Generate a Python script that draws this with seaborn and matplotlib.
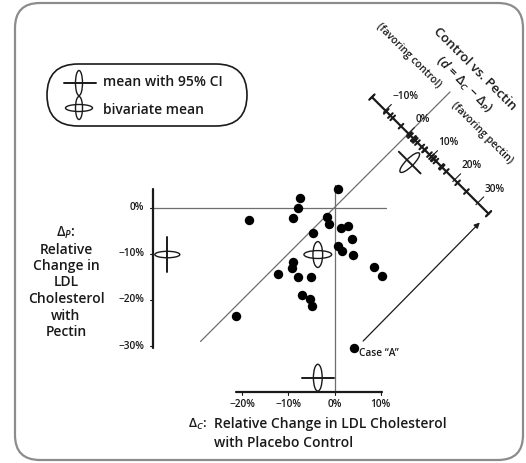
import numpy as np
import pandas as pd
import seaborn as sns
import matplotlib
matplotlib.use("Agg")
from matplotlib import pyplot as plt
from matplotlib.patches import Ellipse, FancyBboxPatch

# relative change in LDL cholesterol (%), one pair per subject
delta_c = [-18.4, -7.5, -8.0, -9.0, 0.8, -1.7, -1.1, -4.6, 1.4, 3.0, 3.8, 0.8, 1.6,
           3.9, 8.5, 10.3, -8.9, -9.3, -12.2, -8.0, -5.1, -7.0, -5.3, -4.9, -21.3, 4.2]
delta_p = [-2.6, 2.1, -0.2, -2.2, 4.0, -2.1, -3.6, -5.5, -4.4, -4.0, -6.9, -8.3, -9.4,
           -10.3, -12.8, -14.8, -11.9, -13.2, -14.4, -15.1, -15.1, -18.9, -19.9, -21.3,
           -23.4, -30.5]
case_a = 25  # index of Case "A"

x_ticks = [-20, -10, 0, 10]
y_ticks = [0, -10, -20, -30]
d_ticks = [-10, 0, 10, 20, 30]

# 95% CI half widths and ellipse sizes (width, height)
ci_c = 3.4
ci_p = 3.8
ci_d = 4.7
ell_c = (1.9, 5.8)
ell_p = (5.4, 1.4)
ell_d = (5.8, 1.7)
biv_h = (6.0, 1.7)
biv_v = (2.1, 5.6)

df = pd.DataFrame({"dc": delta_c, "dp": delta_p})
df["d"] = df.dc - df.dp
mean_c, mean_p = df.dc.mean(), df.dp.mean()
mean_d = mean_c - mean_p

# pixel of the reference -> data units (both axes same scale)
X0, Y0, S = 334.5, 207.5, 4.62
def P(px, py):
    return ((px - X0) / S, (Y0 - py) / S)

def pct(v):
    return f"{v}%".replace("-", "\u2212")

sns.set_style("white")
plt.rcParams["font.family"] = ["Open Sans", "DejaVu Sans"]
plt.rcParams["font.weight"] = "semibold"
plt.rcParams["mathtext.fontset"] = "custom"
plt.rcParams["mathtext.rm"] = "Open Sans:semibold"
plt.rcParams["mathtext.it"] = "Open Sans:italic:semibold"

ink = "#1a1a1a"
ref = "#6e6e6e"

fig = plt.figure(figsize=(5.26, 4.63), dpi=100)
ax = fig.add_axes([0, 0, 1, 1])
ax.set_xlim(P(0, 0)[0], P(526, 0)[0])
ax.set_ylim(P(0, 463)[1], P(0, 0)[1])
ax.axis("off")

# outer rounded frame
fx0, fy1 = P(15, 3)
fx1, fy0 = P(523, 460)
ax.add_patch(FancyBboxPatch((fx0, fy0), fx1 - fx0, fy1 - fy0,
                            boxstyle="round,pad=0,rounding_size=5.4", fc="none",
                            ec="#8c8c8c", lw=1.6))

axis_x = P(153, 0)[0]
axis_y = P(0, 392)[1]
c0 = 16.0  # where the difference axis crosses the diagonal

# reference lines
ax.plot([axis_x, 11.2], [0, 0], color=ref, lw=0.9)
ax.plot([0, 0], [axis_y, 4.8], color=ref, lw=0.9)
ax.plot([-29, 25], [-29, 25], color=ref, lw=0.9)

# range frame axes
ax.plot([df.dc.min(), df.dc.max()], [axis_y, axis_y], color=ink, lw=1.6)
for t in x_ticks:
    ax.plot([t, t], [axis_y, axis_y - 0.7], color=ink, lw=0.8)
    ax.text(t, axis_y - 2.6, pct(t), ha="center", va="center", fontsize=7.3, color=ink)
ax.plot([axis_x, axis_x], [df.dp.min(), df.dp.max()], color=ink, lw=1.6)
for t in y_ticks:
    ax.plot([axis_x, axis_x - 0.7], [t, t], color=ink, lw=0.8)
    ax.text(axis_x - 1.9, t, pct(t), ha="right", va="center", fontsize=7.3, color=ink)

# difference axis, perpendicular to the diagonal
def on_d(v):
    return c0 + v / 2, c0 - v / 2

d0, d1 = on_d(df.d.min()), on_d(df.d.max())
ax.plot([d0[0], d1[0]], [d0[1], d1[1]], color=ink, lw=1.6)
for e in (d0, d1):
    ax.plot([e[0] - 0.6, e[0] + 0.6], [e[1] - 0.6, e[1] + 0.6], color=ink, lw=1.3)
for v in df.d:
    q = on_d(v)
    ax.plot([q[0] - 0.5, q[0] + 0.5], [q[1] - 0.5, q[1] + 0.5], color=ink, lw=1.5)
for t in d_ticks:
    q = on_d(t)
    ax.plot([q[0] - 0.4, q[0] + 1.3], [q[1] - 0.4, q[1] + 1.3], color=ink, lw=0.8)
    ax.text(q[0] + 1.5, q[1] + 3.0, pct(t), ha="left", va="center", fontsize=7.3,
            color=ink)

# data points
sns.scatterplot(data=df, x="dc", y="dp", color="black", s=46, linewidth=0,
                ax=ax, legend=False, zorder=5)
ax.set_xlabel("")
ax.set_ylabel("")
ax.axis("off")
ca = df.loc[case_a]
ax.text(ca.dc + 1.0, ca.dp - 1.2, "Case \u201cA\u201d", ha="left", va="center",
        fontsize=7.3, color=ink)
t_axis = (2 * c0 - (ca.dc + ca.dp)) / 2
ax.annotate("", xy=(ca.dc + t_axis - 1.9, ca.dp + t_axis - 1.9),
            xytext=(ca.dc + 2.0, ca.dp + 1.6),
            arrowprops=dict(arrowstyle="-|>", color=ink, lw=0.9, mutation_scale=8,
                            shrinkA=0, shrinkB=0))

# marginal means with CI
my = axis_y + 3.1
ax.plot([mean_c - ci_c, mean_c + ci_c], [my, my], color=ink, lw=1.4)
ax.add_patch(Ellipse((mean_c, my), ell_c[0], ell_c[1], fc="none", ec=ink, lw=1.0))
mx = axis_x + 3.1
ax.plot([mx, mx], [mean_p - ci_p, mean_p + ci_p], color=ink, lw=1.4)
ax.add_patch(Ellipse((mx, mean_p), ell_p[0], ell_p[1], fc="none", ec=ink, lw=1.0))
# bivariate mean
ax.add_patch(Ellipse((mean_c, mean_p), biv_h[0], biv_h[1], fc="none", ec=ink, lw=1.0))
ax.add_patch(Ellipse((mean_c, mean_p), biv_v[0], biv_v[1], fc="none", ec=ink, lw=1.0))
# mean difference, shifted off the d axis toward the origin
qm = on_d(mean_d)
qm = (qm[0] - 3.0, qm[1] - 3.0)
h = ci_d / 2
ax.plot([qm[0] - h, qm[0] + h], [qm[1] + h, qm[1] - h], color=ink, lw=1.4)
ax.add_patch(Ellipse(qm, ell_d[0], ell_d[1], angle=45, fc="none", ec=ink, lw=1.0))

# legend pill
lx0, ly1 = P(47, 64)
lx1, ly0 = P(247, 126)
ax.add_patch(FancyBboxPatch((lx0, ly0), lx1 - lx0, ly1 - ly0,
                            boxstyle=f"round,pad=0,rounding_size={(ly1 - ly0) / 2}",
                            fc="none", ec=ink, lw=1.2))
a = P(79, 83)
ax.plot([P(64, 0)[0], P(96, 0)[0]], [a[1], a[1]], color=ink, lw=1.4)
ax.add_patch(Ellipse(a, 7 / S, 25 / S, fc="none", ec=ink, lw=1.0))
b = P(79, 108)
ax.add_patch(Ellipse(b, 27 / S, 7 / S, fc="none", ec=ink, lw=1.0))
ax.add_patch(Ellipse(b, 7 / S, 23 / S, fc="none", ec=ink, lw=1.0))
ax.text(*P(103, 82), "mean with 95% CI", ha="left", va="center", fontsize=10, color=ink)
ax.text(*P(103, 110), "bivariate mean", ha="left", va="center", fontsize=10, color=ink)

# axis titles
ax.text(*P(188, 424), r"$\Delta_C$:", ha="left", va="center", fontsize=9.5, color=ink)
ax.text(*P(214, 424), "Relative Change in LDL Cholesterol", ha="left", va="center",
        fontsize=10, color=ink)
ax.text(*P(214, 443), "with Placebo Control", ha="left", va="center", fontsize=10,
        color=ink)
ylab = [r"$\Delta_P$:", "Relative", "Change in", "LDL", "Cholesterol", "with", "Pectin"]
for i, s in enumerate(ylab):
    ax.text(*P(66, 233 + i * 16.5), s, ha="center", va="center", fontsize=10, color=ink)

ax.text(*P(475, 69), "Control vs. Pectin", rotation=-45, rotation_mode="anchor",
        ha="center", va="center", fontsize=9.5, color=ink)
ax.text(*P(464, 85), "($d$ = $\\Delta_C$ \u2212 $\\Delta_P$)",
        rotation=-45, rotation_mode="anchor", ha="center", va="center", fontsize=9.5,
        color=ink)
ax.text(*P(409, 56), "(favoring control)", rotation=-45, rotation_mode="anchor",
        ha="center", va="center", fontsize=7.5, color=ink)
ax.text(*P(482, 133), "(favoring pectin)", rotation=-45, rotation_mode="anchor",
        ha="center", va="center", fontsize=7.5, color=ink)

fig.savefig("out.png", dpi=100)
